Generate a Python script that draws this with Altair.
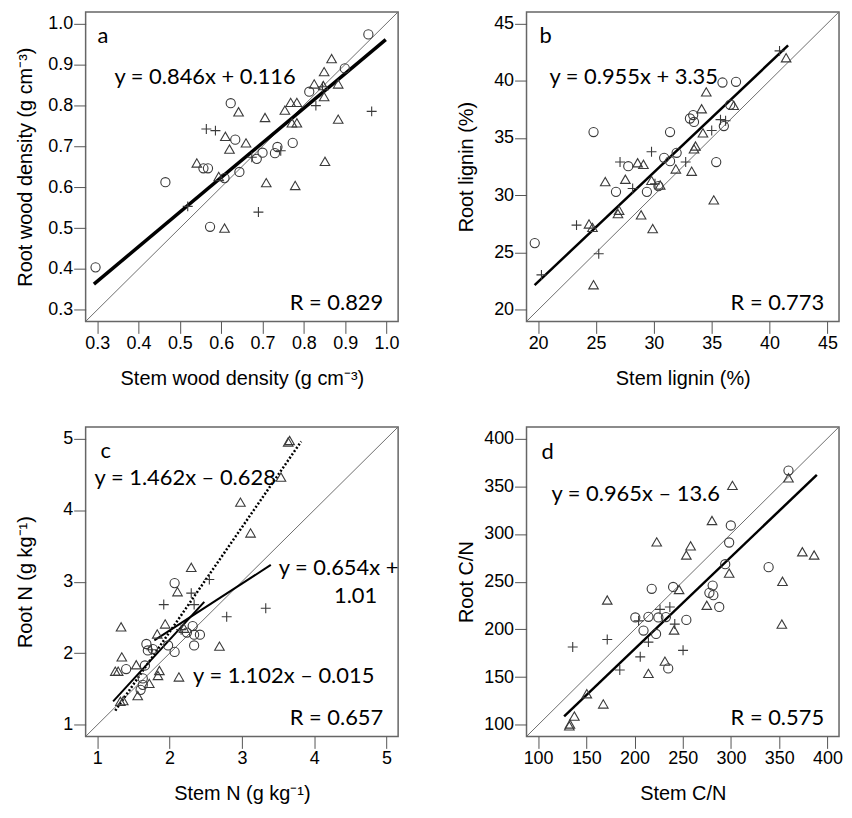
import altair as alt
import pandas as pd

# ---------------- Panel a : wood density ----------------
a_circ_x = [0.956, 0.899, 0.813, 0.623, 0.634, 0.557, 0.568, 0.644, 0.686, 0.700, 0.730, 0.736, 0.773, 0.573, 0.296, 0.465, 0.608]
a_circ_y = [0.973, 0.890, 0.833, 0.805, 0.716, 0.646, 0.646, 0.637, 0.669, 0.684, 0.683, 0.698, 0.708, 0.503, 0.404, 0.612, 0.622]
a_tri_x = [0.867, 0.849, 0.825, 0.883, 0.847, 0.849, 0.768, 0.783, 0.754, 0.642, 0.706, 0.771, 0.783, 0.883, 0.610, 0.620, 0.660, 0.541, 0.594, 0.851, 0.709, 0.779, 0.608]
a_tri_y = [0.914, 0.882, 0.852, 0.852, 0.848, 0.821, 0.807, 0.807, 0.788, 0.784, 0.770, 0.757, 0.757, 0.766, 0.724, 0.693, 0.708, 0.659, 0.626, 0.663, 0.611, 0.604, 0.500]
a_plus_x = [0.564, 0.586, 0.829, 0.964, 0.744, 0.674, 0.690, 0.519, 0.845]
a_plus_y = [0.742, 0.738, 0.799, 0.785, 0.689, 0.673, 0.539, 0.553, 0.845]
a_lim = [0.272, 1.028]
a_ticks = [0.3, 0.4, 0.5, 0.6, 0.7, 0.8, 0.9, 1.0]
a_fit = {"slope": 0.846, "intercept": 0.116, "x0": 0.292, "x1": 0.998}

# ---------------- Panel b : lignin ----------------
b_circ_x = [19.71, 24.79, 26.73, 27.79, 29.40, 30.89, 31.40, 31.40, 31.97, 33.12, 33.40, 33.47, 35.39, 35.93, 37.10, 36.05, 36.60, 30.40]
b_circ_y = [25.83, 35.52, 30.30, 32.54, 30.30, 33.27, 32.98, 35.52, 33.71, 36.70, 37.00, 36.40, 32.90, 39.84, 39.90, 36.04, 37.90, 30.80]
b_tri_x = [34.53, 34.13, 36.90, 34.24, 33.47, 33.60, 33.27, 31.90, 35.18, 28.60, 29.10, 25.80, 27.54, 29.80, 30.55, 26.90, 28.90, 29.90, 24.40, 24.79, 41.43, 24.70, 27.00]
b_tri_y = [39.02, 37.55, 37.85, 35.45, 34.05, 34.30, 32.10, 32.30, 29.60, 32.84, 32.70, 31.20, 31.40, 31.30, 30.90, 28.40, 28.30, 27.10, 27.50, 22.20, 42.00, 27.20, 28.70]
b_plus_x = [20.29, 23.32, 25.24, 27.08, 29.80, 28.17, 32.75, 35.00, 36.20, 40.86, 35.76, 30.10]
b_plus_y = [23.06, 27.40, 24.90, 32.90, 33.80, 30.60, 32.90, 35.66, 36.50, 42.60, 36.60, 31.00]
b_lim = [19.0, 46.0]
b_ticks = [20, 25, 30, 35, 40, 45]
b_fit = {"slope": 0.955, "intercept": 3.35, "x0": 19.7, "x1": 41.6}

# ---------------- Panel c : nitrogen ----------------
c_circ_x = [2.07, 1.68, 1.70, 1.98, 2.07, 2.24, 2.32, 2.34, 2.42, 2.34, 1.66, 1.40, 1.63, 1.63, 1.77, 1.60]
c_circ_y = [2.98, 2.13, 2.04, 2.11, 2.02, 2.29, 2.38, 2.26, 2.26, 2.11, 1.83, 1.78, 1.56, 1.65, 2.06, 1.49]
c_tri_x = [3.66, 3.64, 3.54, 2.98, 3.12, 2.30, 2.11, 1.33, 2.69, 2.13, 1.94, 1.83, 1.34, 1.25, 1.29, 1.54, 1.86, 1.84, 1.72, 1.56, 1.36, 2.20, 1.32]
c_tri_y = [4.97, 4.95, 4.46, 4.11, 3.68, 3.20, 2.86, 2.37, 2.10, 1.67, 2.41, 2.27, 1.95, 1.75, 1.75, 1.84, 1.76, 1.69, 1.58, 1.41, 1.34, 2.35, 1.33]
c_plus_x = [1.92, 2.30, 2.34, 2.79, 3.33, 2.55, 2.16, 1.75]
c_plus_y = [2.68, 2.84, 2.68, 2.51, 2.63, 3.03, 2.33, 2.05]
c_lim = [0.84, 5.16]
c_ticks = [1, 2, 3, 4, 5]
c_fits = [
    {"slope": 1.462, "intercept": -0.628, "x0": 1.25, "x1": 3.82, "dash": [2, 2]},
    {"slope": 0.654, "intercept": 1.01, "x0": 1.79, "x1": 3.40, "dash": []},
    {"slope": 1.102, "intercept": -0.015, "x0": 1.22, "x1": 2.48, "dash": []},
]

# ---------------- Panel d : C/N ----------------
d_circ_x = [359.6, 299.8, 298.1, 294.0, 339.0, 217.8, 240.0, 281.0, 277.6, 281.7, 287.8, 253.7, 200.8, 214.4, 224.7, 209.3, 222.3, 234.9, 232.5]
d_circ_y = [366.3, 308.8, 291.0, 268.3, 265.2, 242.5, 244.5, 245.9, 238.3, 235.9, 223.5, 210.0, 212.5, 213.2, 212.5, 198.8, 195.3, 159.2, 213.0]
d_tri_x = [301.5, 359.6, 280.3, 223.0, 258.1, 253.7, 298.1, 374.0, 386.2, 353.4, 352.7, 246.2, 171.7, 241.0, 274.9, 231.5, 214.4, 167.6, 150.5, 137.6, 132.4, 133.0]
d_tri_y = [350.8, 358.7, 314.0, 291.6, 287.5, 277.9, 259.0, 281.3, 277.9, 250.4, 205.6, 241.8, 230.8, 199.4, 225.3, 166.8, 154.0, 122.0, 132.7, 109.3, 99.0, 101.0]
d_plus_x = [135.9, 171.7, 184.7, 205.9, 214.4, 226.4, 236.6, 241.7, 250.3, 204.2]
d_plus_y = [181.6, 189.5, 157.5, 171.3, 186.7, 221.0, 223.5, 205.6, 178.1, 209.0]
d_lim = [88.0, 412.0]
d_ticks = [100, 150, 200, 250, 300, 350, 400]
d_fit = {"slope": 0.965, "intercept": -13.6, "x0": 127.0, "x1": 389.0}

GROUPS = ["circle", "triangle", "plus"]
SHAPES = ["circle", "triangle-up", "M-1,0H1M0,-1V1"]
SIZES = [85, 100, 110]

W, H = 314, 311
TXT_FONT = "Lato"
AX_FONT = "Liberation Sans"


def points_df(cx, cy, tx, ty, px, py):
    return pd.DataFrame({
        "x": cx + tx + px,
        "y": cy + ty + py,
        "g": ["circle"] * len(cx) + ["triangle"] * len(tx) + ["plus"] * len(px),
    })


def fit_df(f):
    xs = [f["x0"], f["x1"]]
    return pd.DataFrame({"x": xs, "y": [f["slope"] * v + f["intercept"] for v in xs]})


def text_layer(txt, x, y, size=22, align="left"):
    return alt.Chart(pd.DataFrame({"t": [txt]})).mark_text(
        font=TXT_FONT, fontSize=size, align=align, baseline="alphabetic", color="black"
    ).encode(x=alt.value(x), y=alt.value(y), text="t:N")


def panel(pts, lim, ticks, fmt, xtitle, ytitle, fits, texts):
    sc = alt.Scale(domain=lim, nice=False, zero=False)
    X = alt.X("x:Q", scale=sc, axis=alt.Axis(values=ticks, format=fmt, title=xtitle))
    Y = alt.Y("y:Q", scale=sc, axis=alt.Axis(values=ticks, format=fmt, title=ytitle))
    one = alt.Chart(pd.DataFrame({"x": lim, "y": lim})).mark_line(
        color="#6e6e6e", strokeWidth=1, clip=True).encode(x=X, y=Y)
    layers = [one]
    for f, w, dash in fits:
        kw = dict(color="black", strokeWidth=w, clip=True)
        if dash:
            kw["strokeDash"] = dash
        layers.append(alt.Chart(fit_df(f)).mark_line(**kw).encode(x=X, y=Y))
    layers.append(alt.Chart(pts).mark_point(filled=False, strokeWidth=1.1, color="#3a3a3a", opacity=1).encode(
        x=X, y=Y,
        shape=alt.Shape("g:N", scale=alt.Scale(domain=GROUPS, range=SHAPES), legend=None),
        size=alt.Size("g:N", scale=alt.Scale(domain=GROUPS, range=SIZES), legend=None),
    ))
    for t in texts:
        layers.append(text_layer(*t))
    return alt.layer(*layers).properties(width=W, height=H)


pa = panel(points_df(a_circ_x, a_circ_y, a_tri_x, a_tri_y, a_plus_x, a_plus_y), a_lim, a_ticks, ".1f",
           "Stem wood density (g cm⁻³)", "Root wood density (g cm⁻³)",
           [(a_fit, 3.5, None)],
           [("a", 12, 31), ("y = 0.846x + 0.116", 29, 72), ("R = 0.829", W - 15, H - 11, 22, "right")])
pb = panel(points_df(b_circ_x, b_circ_y, b_tri_x, b_tri_y, b_plus_x, b_plus_y), b_lim, b_ticks, "d",
           "Stem lignin (%)", "Root lignin (%)",
           [(b_fit, 2.5, None)],
           [("b", 13, 31), ("y = 0.955x + 3.35", 23, 72), ("R = 0.773", W - 15, H - 11, 22, "right")])
pc = panel(points_df(c_circ_x, c_circ_y, c_tri_x, c_tri_y, c_plus_x, c_plus_y), c_lim, c_ticks, "d",
           "Stem N (g kg⁻¹)", "Root N (g kg⁻¹)",
           [(c_fits[0], 2.5, c_fits[0]["dash"]), (c_fits[1], 2, None), (c_fits[2], 2, None)],
           [("c", 15, 31), ("y = 1.462x – 0.628", 9, 58), ("y = 0.654x +", 194, 149),
            ("1.01", 293, 177, 22, "right"), ("y = 1.102x – 0.015", 108, 257),
            ("R = 0.657", W - 15, H - 11, 22, "right")])
pd_ = panel(points_df(d_circ_x, d_circ_y, d_tri_x, d_tri_y, d_plus_x, d_plus_y), d_lim, d_ticks, "d",
            "Stem C/N", "Root C/N",
            [(d_fit, 2.5, None)],
            [("d", 15, 32), ("y = 0.965x – 13.6", 25, 74), ("R = 0.575", W - 15, H - 11, 22, "right")])

chart = alt.concat(pa, pb, pc, pd_, columns=2, spacing={"row": 106, "column": 129}, bounds="flush").properties(
    padding={"left": 7, "top": 1, "right": 0, "bottom": 0}
).configure_view(
    stroke="#666666", strokeWidth=1.5
).configure_axis(
    labelFont=AX_FONT, labelFontSize=18, labelColor="black",
    titleFont=AX_FONT, titleFontSize=20, titleFontWeight="normal", titleColor="black",
    tickColor="#555555", tickSize=12, tickWidth=1, domain=False, grid=False,
    labelPadding=1, labelFlush=False, labelOverlap=False,
).configure_axisX(
    titleY=47, titleBaseline="top"
).configure_axisY(
    titleX=-50, titleBaseline="bottom", titleAngle=270
)

chart.save("out.html", embed_options={"renderer": "svg", "actions": False})
